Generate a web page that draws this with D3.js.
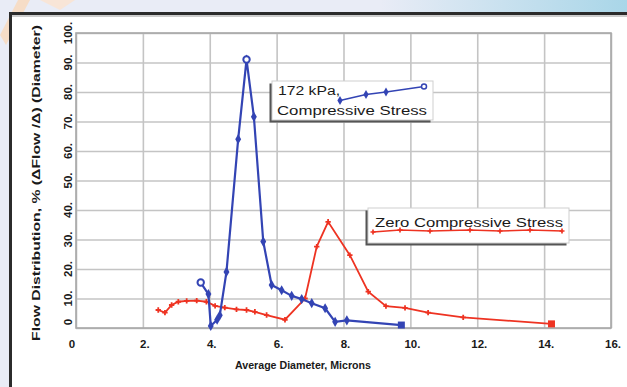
<!DOCTYPE html>
<html><head><meta charset="utf-8">
<script src="https://cdn.jsdelivr.net/npm/d3@7"></script>
<style>
html,body{margin:0;padding:0;background:#e9ecf6;}
svg{display:block;}
text{font-family:"Liberation Sans",Arial,sans-serif;fill:#1a1a1a;}
</style></head>
<body>
<script>
// ---- data ----
const xTicks = [0, 2, 4, 6, 8, 10, 12, 14, 16];
const yTicks = [0, 10, 20, 30, 40, 50, 60, 70, 80, 90, 100];
const xTickLabels = ["0", "2.", "4.", "6.", "8.", "10.", "12.", "14.", "16."];
const yTickLabels = ["0", "10.", "20.", "30.", "40.", "50.", "60.", "70.", "80.", "90.", "100."];

const seriesNames = ["172 kPa, Compressive Stress", "Zero Compressive Stress"];

const blueX = [3.73, 3.96, 4.03, 4.22, 4.3, 4.5, 4.85, 5.1, 5.32, 5.6, 5.85, 6.15, 6.45, 6.75, 7.05, 7.45, 7.75, 8.1, 9.73];
const blueY = [15.4, 11.5, 0.7, 2.8, 4.3, 19, 64, 91, 71.6, 29.3, 14.6, 12.8, 10.9, 9.8, 8.4, 6.7, 2.1, 2.6, 1.0];

const redX = [2.46, 2.66, 2.86, 3.06, 3.31, 3.61, 3.9, 4.16, 4.45, 4.8, 5.1, 5.35, 5.7, 6.25, 6.85, 7.2, 7.54, 8.19, 8.74, 9.27, 9.84, 10.53, 11.58, 14.22];
const redY = [6.1, 5.2, 7.8, 8.9, 9.2, 9.3, 8.9, 7.5, 6.9, 6.3, 6.1, 5.5, 4.4, 2.8, 10, 27.6, 36, 24.7, 12.3, 7.4, 6.8, 5.2, 3.6, 1.4];

const xLabel = "Average Diameter, Microns";
const yLabel = "Flow Distribution, % (\u0394Flow /\u0394) (Diameter)";

// ---- layout ----
const W = 627, H = 387;
const plot = {left: 76, right: 611, top: 33, bottom: 328};
const BLUE = "#3344b4", RED = "#ee3322";

const svg = d3.select("body").append("svg").attr("width", W).attr("height", H);

// background decorations
const defs = svg.append("defs");
const g1 = defs.append("linearGradient").attr("id", "topband").attr("x1", "0").attr("x2", "1");
g1.append("stop").attr("offset", "0").attr("stop-color", "#e9ecf6");
g1.append("stop").attr("offset", "1").attr("stop-color", "#a9d6e8");
svg.append("rect").attr("x", 380).attr("y", 0).attr("width", W - 380).attr("height", 13).attr("fill", "url(#topband)");
svg.append("path").attr("d", "M0,35 L18,0 L30,0 L6,45 Z").attr("fill", "#f9d9bc").attr("opacity", 0.8);
svg.append("path").attr("d", "M40,0 L75,0 L60,10 Z").attr("fill", "#fbe3cf").attr("opacity", 0.8);

// frame
svg.append("rect").attr("x", 10.5).attr("y", 13.5).attr("width", 700).attr("height", 500)
  .attr("fill", "#ffffff").attr("stroke", "#2b2b2b").attr("stroke-width", 3);
svg.append("line").attr("x1", 12).attr("x2", W).attr("y1", 16).attr("y2", 16).attr("stroke", "#9a9a9a").attr("stroke-width", 1);

// scales
const x = d3.scaleLinear().domain([0, 16]).range([plot.left, plot.right]);
const y = d3.scaleLinear().domain([0, 100]).range([plot.bottom, plot.top]);

// grid
const grid = svg.append("g");
grid.append("g").attr("transform", `translate(0,${plot.bottom})`)
  .call(d3.axisBottom(x).tickValues(xTicks).tickSize(-(plot.bottom - plot.top)).tickFormat(""))
  .call(g => g.select(".domain").remove())
  .call(g => g.selectAll("line").attr("stroke", "#c4c4c4").attr("stroke-width", 1.6));
grid.append("g").attr("transform", `translate(${plot.left},0)`)
  .call(d3.axisLeft(y).tickValues(yTicks).tickSize(-(plot.right - plot.left)).tickFormat(""))
  .call(g => g.select(".domain").remove())
  .call(g => g.selectAll("line").attr("stroke", "#c4c4c4").attr("stroke-width", 1.6));
svg.append("rect").attr("x", plot.left).attr("y", plot.top)
  .attr("width", plot.right - plot.left).attr("height", plot.bottom - plot.top)
  .attr("fill", "none").attr("stroke", "#a8a8a8").attr("stroke-width", 1.6);

// x tick labels
svg.append("g").selectAll("text").data(xTicks).join("text")
  .attr("x", (d, i) => x(d) + (i === 0 ? -4 : 2)).attr("y", 348)
  .attr("text-anchor", "middle").attr("font-size", 11.5).attr("font-weight", "bold")
  .text((d, i) => xTickLabels[i]);

// y tick labels (rotated)
svg.append("g").selectAll("text").data(yTicks).join("text")
  .attr("transform", (d, i) => `translate(72,${y(d) - (i === 0 ? 6 : 0)}) rotate(-90)`)
  .attr("text-anchor", "middle").attr("font-size", 11.5).attr("font-weight", "bold")
  .text((d, i) => yTickLabels[i]);

// axis titles
svg.append("text").attr("x", 303).attr("y", 369).attr("text-anchor", "middle")
  .attr("font-size", 11.5).attr("font-weight", "bold").attr("textLength", 136).attr("lengthAdjust", "spacingAndGlyphs")
  .text(xLabel);
svg.append("text").attr("transform", `translate(40,183) rotate(-90)`).attr("text-anchor", "middle")
  .attr("font-size", 11.5).attr("font-weight", "bold").attr("textLength", 316).attr("lengthAdjust", "spacingAndGlyphs")
  .text(yLabel);

// series
const blue = blueX.map((v, i) => [v, blueY[i]]);
const red = redX.map((v, i) => [v, redY[i]]);
const line = d3.line().x(d => x(d[0])).y(d => y(d[1]));

svg.append("path").datum(red).attr("d", line).attr("fill", "none").attr("stroke", RED).attr("stroke-width", 1.8);
svg.append("g").selectAll("path").data(red).join("path")
  .attr("transform", d => `translate(${x(d[0])},${y(d[1])})`)
  .attr("d", d3.symbol(d3.symbolCross, 16)).attr("fill", RED);
svg.append("g").selectAll("rect").data(red.slice(-1)).join("rect")
  .attr("x", d => x(d[0]) - 3.5).attr("y", d => y(d[1]) - 3.5).attr("width", 7).attr("height", 7).attr("fill", RED);

svg.append("path").datum(blue).attr("d", line).attr("fill", "none").attr("stroke", BLUE).attr("stroke-width", 2.2);
svg.append("g").selectAll("path").data(blue.slice(1, -1)).join("path")
  .attr("transform", d => `translate(${x(d[0])},${y(d[1])})`)
  .attr("d", d3.symbol(d3.symbolDiamond, 30)).attr("fill", BLUE);
svg.append("circle").datum(blue[0]).attr("cx", d => x(d[0])).attr("cy", d => y(d[1])).attr("r", 3.2)
  .attr("fill", "#fff").attr("stroke", BLUE).attr("stroke-width", 2);
svg.append("circle").datum(blue[7]).attr("cx", d => x(d[0])).attr("cy", d => y(d[1])).attr("r", 3.2)
  .attr("fill", "#fff").attr("stroke", BLUE).attr("stroke-width", 2);
svg.append("rect").datum(blue[blue.length - 1]).attr("x", d => x(d[0]) - 3.5).attr("y", d => y(d[1]) - 3.5)
  .attr("width", 7).attr("height", 7).attr("fill", BLUE);

// legends
function legendBox(bx, by, bw, bh) {
  svg.append("rect").attr("x", bx - 2.5).attr("y", by + 2.5).attr("width", bw).attr("height", bh).attr("fill", "#555");
  svg.append("rect").attr("x", bx).attr("y", by).attr("width", bw).attr("height", bh)
    .attr("fill", "#fff").attr("stroke", "#cfcfcf").attr("stroke-width", 1);
}
legendBox(272, 81, 161, 39);
const legB = [[340, 100.5], [366, 94.5], [386, 92], [424, 86.5]];
svg.append("path").attr("d", d3.line()(legB)).attr("fill", "none").attr("stroke", BLUE).attr("stroke-width", 1.6);
svg.append("g").selectAll("path").data(legB.slice(0, 3)).join("path")
  .attr("transform", d => `translate(${d[0]},${d[1]})`).attr("d", d3.symbol(d3.symbolDiamond, 24)).attr("fill", BLUE);
svg.append("circle").attr("cx", 424).attr("cy", 86.5).attr("r", 2.5).attr("fill", "#fff").attr("stroke", BLUE).attr("stroke-width", 1.5);
svg.append("text").attr("x", 278).attr("y", 95).attr("font-size", 12).attr("textLength", 62).attr("lengthAdjust", "spacingAndGlyphs").text("172 kPa,");
svg.append("text").attr("x", 277).attr("y", 115).attr("font-size", 12).attr("textLength", 150).attr("lengthAdjust", "spacingAndGlyphs").text("Compressive Stress");

legendBox(368, 208, 201, 35);
const legR = [[373, 232], [400, 230], [430, 231], [470, 230], [500, 231], [530, 230], [562, 231]];
svg.append("path").attr("d", d3.line()(legR)).attr("fill", "none").attr("stroke", RED).attr("stroke-width", 1.5);
svg.append("g").selectAll("path").data(legR).join("path")
  .attr("transform", d => `translate(${d[0]},${d[1]})`).attr("d", d3.symbol(d3.symbolCross, 14)).attr("fill", RED);
svg.append("text").attr("x", 375).attr("y", 227).attr("font-size", 12).attr("textLength", 188).attr("lengthAdjust", "spacingAndGlyphs").text("Zero Compressive Stress");
</script>
</body></html>
